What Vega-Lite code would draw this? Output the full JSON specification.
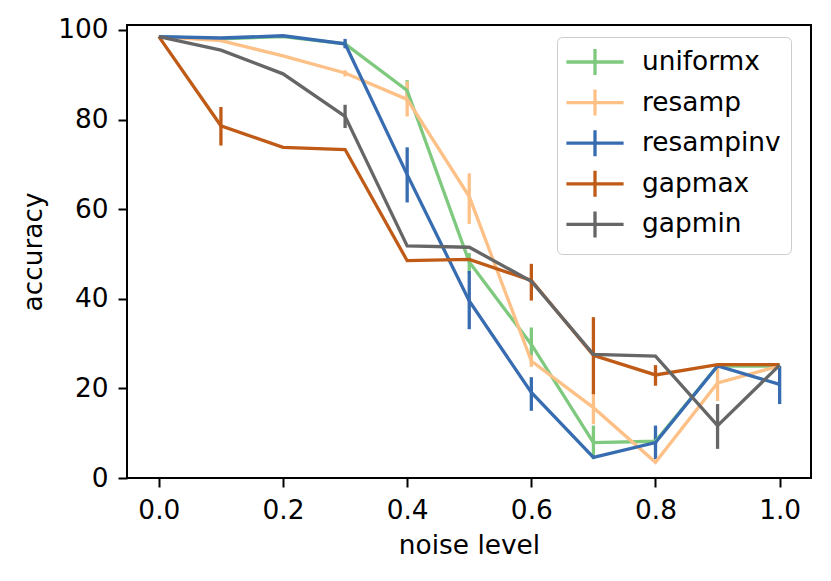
{
  "$schema": "https://vega.github.io/schema/vega-lite/v6.json",
  "width": 684,
  "height": 453,
  "autosize": {"type": "none"},
  "padding": {"left": 127, "top": 25, "right": 20, "bottom": 103},
  "background": "white",
  "config": {
    "font": "DejaVu Sans",
    "view": {"stroke": "black", "strokeWidth": 2},
    "axis": {
      "grid": false,
      "domain": false,
      "tickColor": "black",
      "tickSize": 9,
      "tickWidth": 2,
      "labelColor": "black",
      "labelFontSize": 26.4,
      "labelPadding": 10,
      "titleColor": "black",
      "titleFontSize": 26.4,
      "titleFontWeight": "normal"
    }
  },
  "data": {
    "values": [
      {"series": "uniformx", "x": 0.0, "y": 98.5, "lo": 98.5, "hi": 98.5},
      {"series": "uniformx", "x": 0.1, "y": 98.0, "lo": 98.0, "hi": 98.0},
      {"series": "uniformx", "x": 0.2, "y": 98.5, "lo": 98.5, "hi": 98.5},
      {"series": "uniformx", "x": 0.3, "y": 96.9, "lo": 96.3, "hi": 97.5},
      {"series": "uniformx", "x": 0.4, "y": 86.5, "lo": 84.0, "hi": 88.8},
      {"series": "uniformx", "x": 0.5, "y": 48.2, "lo": 45.6, "hi": 50.2},
      {"series": "uniformx", "x": 0.6, "y": 29.8, "lo": 25.8, "hi": 33.6},
      {"series": "uniformx", "x": 0.7, "y": 7.9, "lo": 4.2, "hi": 11.7},
      {"series": "uniformx", "x": 0.8, "y": 8.2, "lo": 7.0, "hi": 9.2},
      {"series": "uniformx", "x": 0.9, "y": 25.0, "lo": 25.0, "hi": 25.0},
      {"series": "uniformx", "x": 1.0, "y": 25.0, "lo": 25.0, "hi": 25.0},
      {"series": "resamp", "x": 0.0, "y": 98.5, "lo": 98.5, "hi": 98.5},
      {"series": "resamp", "x": 0.1, "y": 97.6, "lo": 97.6, "hi": 97.6},
      {"series": "resamp", "x": 0.2, "y": 94.2, "lo": 94.2, "hi": 94.2},
      {"series": "resamp", "x": 0.3, "y": 90.4, "lo": 89.6, "hi": 91.0},
      {"series": "resamp", "x": 0.4, "y": 84.5, "lo": 80.7, "hi": 88.5},
      {"series": "resamp", "x": 0.5, "y": 62.8, "lo": 56.7, "hi": 68.0},
      {"series": "resamp", "x": 0.6, "y": 26.1, "lo": 24.8, "hi": 27.4},
      {"series": "resamp", "x": 0.7, "y": 15.7, "lo": 12.0, "hi": 19.1},
      {"series": "resamp", "x": 0.8, "y": 3.5, "lo": 3.5, "hi": 3.5},
      {"series": "resamp", "x": 0.9, "y": 21.2, "lo": 17.2, "hi": 24.7},
      {"series": "resamp", "x": 1.0, "y": 25.0, "lo": 25.0, "hi": 25.0},
      {"series": "resampinv", "x": 0.0, "y": 98.5, "lo": 98.5, "hi": 98.5},
      {"series": "resampinv", "x": 0.1, "y": 98.2, "lo": 98.2, "hi": 98.2},
      {"series": "resampinv", "x": 0.2, "y": 98.7, "lo": 98.7, "hi": 98.7},
      {"series": "resampinv", "x": 0.3, "y": 96.9, "lo": 95.9, "hi": 98.0},
      {"series": "resampinv", "x": 0.4, "y": 67.7, "lo": 61.5, "hi": 73.8},
      {"series": "resampinv", "x": 0.5, "y": 39.5, "lo": 33.2, "hi": 46.2},
      {"series": "resampinv", "x": 0.6, "y": 19.1, "lo": 15.0, "hi": 22.5},
      {"series": "resampinv", "x": 0.7, "y": 4.6, "lo": 4.6, "hi": 4.6},
      {"series": "resampinv", "x": 0.8, "y": 7.9, "lo": 4.2, "hi": 11.7},
      {"series": "resampinv", "x": 0.9, "y": 25.0, "lo": 25.0, "hi": 25.0},
      {"series": "resampinv", "x": 1.0, "y": 20.9, "lo": 16.5, "hi": 25.0},
      {"series": "gapmax", "x": 0.0, "y": 98.5, "lo": 98.5, "hi": 98.5},
      {"series": "gapmax", "x": 0.1, "y": 78.6, "lo": 74.2, "hi": 82.8},
      {"series": "gapmax", "x": 0.2, "y": 73.8, "lo": 73.8, "hi": 73.8},
      {"series": "gapmax", "x": 0.3, "y": 73.3, "lo": 73.3, "hi": 73.3},
      {"series": "gapmax", "x": 0.4, "y": 48.5, "lo": 48.5, "hi": 48.5},
      {"series": "gapmax", "x": 0.5, "y": 48.8, "lo": 48.8, "hi": 48.8},
      {"series": "gapmax", "x": 0.6, "y": 44.1, "lo": 39.6, "hi": 47.8},
      {"series": "gapmax", "x": 0.7, "y": 27.4, "lo": 18.7, "hi": 35.9},
      {"series": "gapmax", "x": 0.8, "y": 23.0, "lo": 20.6, "hi": 25.2},
      {"series": "gapmax", "x": 0.9, "y": 25.3, "lo": 25.3, "hi": 25.3},
      {"series": "gapmax", "x": 1.0, "y": 25.3, "lo": 25.3, "hi": 25.3},
      {"series": "gapmin", "x": 0.0, "y": 98.5, "lo": 98.5, "hi": 98.5},
      {"series": "gapmin", "x": 0.1, "y": 95.5, "lo": 95.5, "hi": 95.5},
      {"series": "gapmin", "x": 0.2, "y": 90.2, "lo": 90.2, "hi": 90.2},
      {"series": "gapmin", "x": 0.3, "y": 80.7, "lo": 78.1, "hi": 83.3},
      {"series": "gapmin", "x": 0.4, "y": 51.8, "lo": 51.8, "hi": 51.8},
      {"series": "gapmin", "x": 0.5, "y": 51.5, "lo": 51.5, "hi": 51.5},
      {"series": "gapmin", "x": 0.6, "y": 43.9, "lo": 43.9, "hi": 43.9},
      {"series": "gapmin", "x": 0.7, "y": 27.6, "lo": 27.6, "hi": 27.6},
      {"series": "gapmin", "x": 0.8, "y": 27.2, "lo": 27.2, "hi": 27.2},
      {"series": "gapmin", "x": 0.9, "y": 11.7, "lo": 6.5, "hi": 16.5},
      {"series": "gapmin", "x": 1.0, "y": 25.2, "lo": 25.2, "hi": 25.2}
    ]
  },
  "encoding": {
    "x": {
      "field": "x",
      "type": "quantitative",
      "title": "noise level",
      "scale": {"domain": [-0.0513, 1.0505], "nice": false, "zero": false},
      "axis": {"values": [0, 0.2, 0.4, 0.6, 0.8, 1.0], "format": ".1f", "titlePadding": 9}
    },
    "color": {
      "field": "series",
      "type": "nominal",
      "sort": ["uniformx", "resamp", "resampinv", "gapmax", "gapmin"],
      "scale": {
        "domain": ["uniformx", "resamp", "resampinv", "gapmax", "gapmin"],
        "range": ["#7fc97f", "#fdc086", "#386cb0", "#bf5b17", "#666666"]
      },
      "legend": {
        "title": null,
        "orient": "none",
        "legendX": 430,
        "legendY": 12,
        "padding": 10,
        "fillColor": "rgba(255,255,255,0.8)",
        "strokeColor": "#cccccc",
        "cornerRadius": 5,
        "symbolType": "M-2.2,0H2.2M0,-1V1",
        "symbolSize": 676,
        "symbolStrokeWidth": 3.3,
        "symbolFillColor": "transparent",
        "symbolOffset": 13,
        "labelOffset": 32,
        "labelFontSize": 26.4,
        "labelColor": "black",
        "rowPadding": 0.6
      }
    }
  },
  "layer": [
    {
      "mark": {"type": "rule", "strokeWidth": 3.3},
      "encoding": {
        "y": {"field": "lo", "type": "quantitative"},
        "y2": {"field": "hi"}
      }
    },
    {
      "mark": {"type": "line", "strokeWidth": 3.3},
      "encoding": {
        "y": {
          "field": "y",
          "type": "quantitative",
          "title": "accuracy",
          "scale": {"domain": [0, 101.1], "nice": false},
          "axis": {"values": [0, 20, 40, 60, 80, 100], "titlePadding": 10}
        }
      }
    }
  ]
}
